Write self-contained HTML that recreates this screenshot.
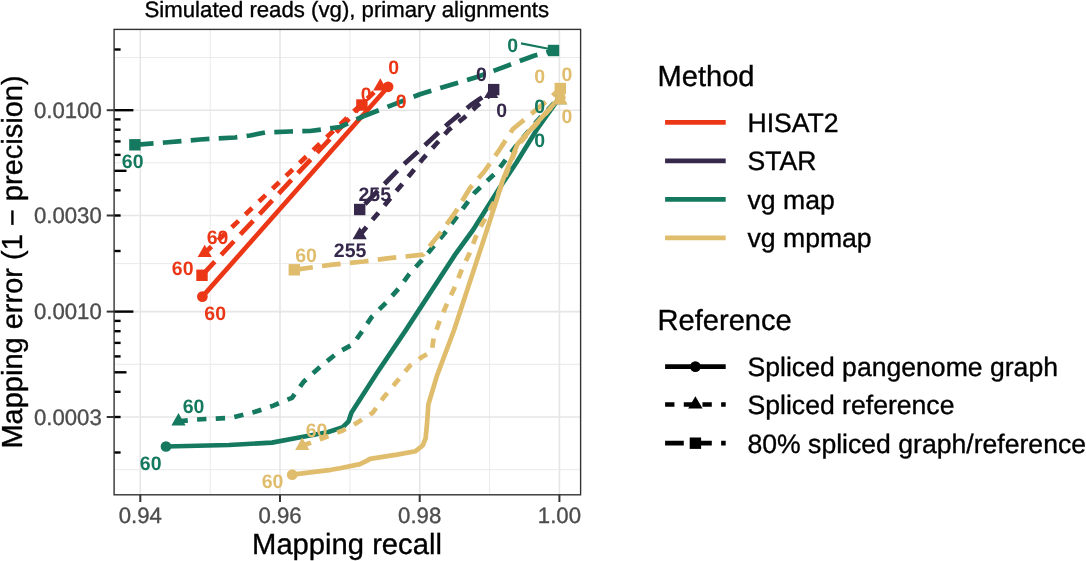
<!DOCTYPE html><html><head><meta charset="utf-8"><title>Simulated reads (vg), primary alignments</title>
<style>html,body{margin:0;padding:0;background:#fff}svg{display:block}text{font-family:"Liberation Sans",sans-serif;text-rendering:geometricPrecision}.lab{font-weight:bold;font-size:19.5px;text-anchor:middle}.tk{font-size:22.2px;fill:#4d4d4d}.lg{font-size:26.6px;fill:#000}.lt{font-size:29.1px;fill:#000}text{stroke-width:0.35px}.tk{stroke:#4d4d4d}.lg,.lt,.bk{stroke:#000}</style></head><body>
<svg width="1086" height="561" viewBox="0 0 1086 561">
<rect width="1086" height="561" fill="#fff"/>
<g stroke="#e5e5e5" stroke-width="0.8">
<line x1="210.2" y1="29.4" x2="210.2" y2="494.8"/>
<line x1="349.9" y1="29.4" x2="349.9" y2="494.8"/>
<line x1="489.6" y1="29.4" x2="489.6" y2="494.8"/>
<line x1="114.1" y1="57.5" x2="580.6" y2="57.5"/>
<line x1="114.1" y1="162.8" x2="580.6" y2="162.8"/>
<line x1="114.1" y1="263.6" x2="580.6" y2="263.6"/>
<line x1="114.1" y1="364.3" x2="580.6" y2="364.3"/>
<line x1="114.1" y1="469.7" x2="580.6" y2="469.7"/>
</g>
<g stroke="#e6e6e6" stroke-width="1.6">
<line x1="140.3" y1="29.4" x2="140.3" y2="494.8"/>
<line x1="280.0" y1="29.4" x2="280.0" y2="494.8"/>
<line x1="419.7" y1="29.4" x2="419.7" y2="494.8"/>
<line x1="559.4" y1="29.4" x2="559.4" y2="494.8"/>
<line x1="114.1" y1="110.2" x2="580.6" y2="110.2"/>
<line x1="114.1" y1="215.5" x2="580.6" y2="215.5"/>
<line x1="114.1" y1="311.6" x2="580.6" y2="311.6"/>
<line x1="114.1" y1="417.0" x2="580.6" y2="417.0"/>
</g>
<path d="M202.4,296.6 L388.1,86.8" fill="none" stroke="#EC3716" stroke-width="4.7" stroke-linejoin="round"/>
<path d="M204.7,253.0 L380.3,86.4" fill="none" stroke="#EC3716" stroke-width="4.7" stroke-linejoin="round" stroke-dasharray="9.34 9.34" stroke-dashoffset="0"/>
<path d="M202.0,275.3 L361.9,105.0" fill="none" stroke="#EC3716" stroke-width="4.7" stroke-linejoin="round" stroke-dasharray="18.68 9.34" stroke-dashoffset="0"/>
<path d="M359.7,235.2 L411.2,173.3 L423.0,158.6 L435.7,144.5 L448.4,130.2 L463.7,118.0 L475.5,107.3 L491.2,94.0" fill="none" stroke="#35284B" stroke-width="4.7" stroke-linejoin="round" stroke-dasharray="9.34 9.34" stroke-dashoffset="-1.3"/>
<path d="M359.7,209.5 L401.0,167.0 L428.4,142.0 L449.0,123.0 L470.6,105.3 L479.0,99.5 L493.7,89.6" fill="none" stroke="#35284B" stroke-width="4.7" stroke-linejoin="round" stroke-dasharray="18.68 9.34" stroke-dashoffset="20.5"/>
<path d="M166.0,446.5 L229.0,445.0 L272.0,442.6 L300.5,437.3 L327.6,432.2 L342.8,427.2 L348.6,421.3 L351.4,412.7 L377.1,372.8 L405.5,330.6 L454.9,254.9 L473.0,230.0 L499.8,187.5 L516.3,162.7 L537.2,129.0 L559.9,97.0" fill="none" stroke="#14795F" stroke-width="4.7" stroke-linejoin="round"/>
<path d="M178.5,421.3 L194.5,419.6 L231.0,417.8 L255.2,411.8 L273.3,405.6 L292.0,397.8 L303.9,381.4 L320.8,366.2 L337.7,352.6 L353.0,344.2 L361.4,332.3 L371.6,317.1 L386.8,301.9 L400.0,287.0 L409.3,274.0 L422.0,260.1 L446.3,231.2 L474.6,192.8 L496.6,172.0 L516.0,146.0 L538.0,120.0 L559.9,97.0" fill="none" stroke="#14795F" stroke-width="4.7" stroke-linejoin="round" stroke-dasharray="9.34 9.34" stroke-dashoffset="0"/>
<path d="M134.9,144.8 L165.0,142.5 L200.0,139.5 L235.0,137.5 L250.0,135.5 L265.0,132.5 L290.0,131.5 L310.0,131.0 L340.0,127.0 L364.0,116.0" fill="none" stroke="#14795F" stroke-width="4.7" stroke-linejoin="round" stroke-dasharray="18.68 9.34" stroke-dashoffset="0"/>
<path d="M364.0,116.0 L420.0,94.2 L477.0,77.0 L534.0,55.7 L553.5,50.5" fill="none" stroke="#14795F" stroke-width="4.7" stroke-linejoin="round" stroke-dasharray="18.68 9.34" stroke-dashoffset="2.8354732716962303"/>
<path d="M292.2,474.7 L331.0,469.8 L340.0,468.3 L360.0,464.1 L367.1,460.6 L370.0,458.9 L397.0,454.6 L415.6,451.2 L422.7,445.5 L425.6,438.4 L427.0,424.1 L428.4,404.2 L437.0,375.6 L454.1,330.0 L486.9,230.0 L496.6,200.0 L502.4,181.2 L517.5,144.1 L539.5,119.8 L560.3,97.0" fill="none" stroke="#E0BD6D" stroke-width="4.7" stroke-linejoin="round"/>
<path d="M302.2,445.8 L320.8,439.0 L342.8,430.5 L357.1,422.7 L372.8,412.7 L382.8,398.5 L397.0,381.3 L409.9,365.7 L422.0,357.0 L431.8,351.5 L433.6,338.0 L439.4,321.5 L446.3,305.3 L454.4,287.9 L461.4,270.5 L469.5,253.2 L477.6,232.3 L496.0,198.7 L503.0,182.0 L517.5,146.0 L539.5,120.5 L560.3,97.0" fill="none" stroke="#E0BD6D" stroke-width="4.7" stroke-linejoin="round" stroke-dasharray="9.34 9.34" stroke-dashoffset="0"/>
<path d="M294.3,269.8 L332.6,264.6 L363.9,261.5 L387.4,258.4 L423.2,254.6 L432.4,242.7 L441.7,231.2 L456.1,211.2 L470.0,188.0 L483.9,172.0 L497.8,152.2 L512.9,129.0 L525.6,118.6 L546.4,101.3 L560.3,88.5" fill="none" stroke="#E0BD6D" stroke-width="4.7" stroke-linejoin="round" stroke-dasharray="18.68 9.34" stroke-dashoffset="0"/>
<circle cx="202.4" cy="296.6" r="5.35" fill="#EC3716"/>
<circle cx="388.1" cy="86.8" r="5.35" fill="#EC3716"/>
<polygon points="204.7,244.8 197.6,257.1 211.8,257.1" fill="#EC3716"/>
<polygon points="380.3,78.2 373.2,90.5 387.4,90.5" fill="#EC3716"/>
<rect x="196.3" y="269.6" width="11.4" height="11.4" fill="#EC3716"/>
<rect x="356.2" y="99.3" width="11.4" height="11.4" fill="#EC3716"/>
<polygon points="359.7,227.0 352.6,239.3 366.8,239.3" fill="#35284B"/>
<polygon points="491.2,85.8 484.1,98.1 498.3,98.1" fill="#35284B"/>
<rect x="354.0" y="203.8" width="11.4" height="11.4" fill="#35284B"/>
<rect x="488.0" y="83.9" width="11.4" height="11.4" fill="#35284B"/>
<circle cx="166.0" cy="446.5" r="5.35" fill="#14795F"/>
<circle cx="560.0" cy="97.5" r="4.8" fill="#14795F"/>
<polygon points="178.5,413.1 171.4,425.4 185.6,425.4" fill="#14795F"/>
<polygon points="560.4,93.1 554.0,104.2 566.8,104.2" fill="#14795F"/>
<rect x="129.2" y="139.1" width="11.4" height="11.4" fill="#14795F"/>
<rect x="547.8" y="44.8" width="11.4" height="11.4" fill="#14795F"/>
<circle cx="292.2" cy="474.7" r="5.35" fill="#E0BD6D"/>
<circle cx="560.3" cy="97.5" r="5.35" fill="#E0BD6D"/>
<polygon points="302.2,437.6 295.1,449.9 309.3,449.9" fill="#E0BD6D"/>
<polygon points="560.5,92.3 553.4,104.6 567.6,104.6" fill="#E0BD6D"/>
<rect x="288.6" y="264.1" width="11.4" height="11.4" fill="#E0BD6D"/>
<rect x="554.6" y="82.8" width="11.4" height="11.4" fill="#E0BD6D"/>
<line x1="521" y1="43.4" x2="549.8" y2="49" stroke="#14795F" stroke-width="2.2"/>
<text class="lab" x="217.5" y="244.0" fill="#EC3716">60</text>
<text class="lab" x="182.7" y="274.9" fill="#EC3716">60</text>
<text class="lab" x="215.2" y="319.8" fill="#EC3716">60</text>
<text class="lab" x="393.7" y="73.9" fill="#EC3716">0</text>
<text class="lab" x="366.2" y="100.7" fill="#EC3716">0</text>
<text class="lab" x="401.2" y="108.2" fill="#EC3716">0</text>
<text class="lab" x="374.8" y="201.4" fill="#35284B">255</text>
<text class="lab" x="350.1" y="257.2" fill="#35284B">255</text>
<text class="lab" x="481.5" y="81.0" fill="#35284B">0</text>
<text class="lab" x="501.7" y="116.9" fill="#35284B">0</text>
<text class="lab" x="132.7" y="167.9" fill="#14795F">60</text>
<text class="lab" x="193.5" y="413.2" fill="#14795F">60</text>
<text class="lab" x="150.7" y="470.3" fill="#14795F">60</text>
<text class="lab" x="512.7" y="52.1" fill="#14795F">0</text>
<text class="lab" x="539.8" y="112.6" fill="#14795F">0</text>
<text class="lab" x="539.8" y="146.8" fill="#14795F">0</text>
<text class="lab" x="306.0" y="261.8" fill="#E0BD6D">60</text>
<text class="lab" x="316.5" y="437.1" fill="#E0BD6D">60</text>
<text class="lab" x="272.6" y="487.7" fill="#E0BD6D">60</text>
<text class="lab" x="539.8" y="82.7" fill="#E0BD6D">0</text>
<text class="lab" x="566.9" y="80.7" fill="#E0BD6D">0</text>
<text class="lab" x="566.9" y="122.6" fill="#E0BD6D">0</text>
<g stroke="#000" stroke-width="2.4">
<line x1="114.1" y1="110.2" x2="133.4" y2="110.2"/>
<line x1="114.1" y1="49.5" x2="120.6" y2="49.5"/>
<line x1="114.1" y1="311.6" x2="133.4" y2="311.6"/>
<line x1="114.1" y1="251.0" x2="120.6" y2="251.0"/>
<line x1="114.1" y1="215.5" x2="120.6" y2="215.5"/>
<line x1="114.1" y1="190.3" x2="120.6" y2="190.3"/>
<line x1="114.1" y1="170.8" x2="126.5" y2="170.8"/>
<line x1="114.1" y1="154.9" x2="120.6" y2="154.9"/>
<line x1="114.1" y1="141.4" x2="120.6" y2="141.4"/>
<line x1="114.1" y1="129.7" x2="120.6" y2="129.7"/>
<line x1="114.1" y1="119.4" x2="120.6" y2="119.4"/>
<line x1="114.1" y1="452.5" x2="120.6" y2="452.5"/>
<line x1="114.1" y1="417.0" x2="120.6" y2="417.0"/>
<line x1="114.1" y1="391.8" x2="120.6" y2="391.8"/>
<line x1="114.1" y1="372.3" x2="126.5" y2="372.3"/>
<line x1="114.1" y1="356.4" x2="120.6" y2="356.4"/>
<line x1="114.1" y1="342.9" x2="120.6" y2="342.9"/>
<line x1="114.1" y1="331.2" x2="120.6" y2="331.2"/>
<line x1="114.1" y1="320.9" x2="120.6" y2="320.9"/>
</g>
<rect x="114.1" y="29.4" width="466.5" height="465.4" fill="none" stroke="#333" stroke-width="1.4"/>
<g stroke="#333" stroke-width="2">
<line x1="106.7" y1="110.2" x2="114.1" y2="110.2"/>
<line x1="106.7" y1="215.5" x2="114.1" y2="215.5"/>
<line x1="106.7" y1="311.6" x2="114.1" y2="311.6"/>
<line x1="106.7" y1="417.0" x2="114.1" y2="417.0"/>
<line x1="140.3" y1="494.8" x2="140.3" y2="502.0"/>
<line x1="280.0" y1="494.8" x2="280.0" y2="502.0"/>
<line x1="419.7" y1="494.8" x2="419.7" y2="502.0"/>
<line x1="559.4" y1="494.8" x2="559.4" y2="502.0"/>
</g>
<text class="tk" text-anchor="end" x="101.8" y="117.8">0.0100</text>
<text class="tk" text-anchor="end" x="101.8" y="223.1">0.0030</text>
<text class="tk" text-anchor="end" x="101.8" y="319.2">0.0010</text>
<text class="tk" text-anchor="end" x="101.8" y="424.6">0.0003</text>
<text class="tk" text-anchor="middle" x="140.3" y="523.1">0.94</text>
<text class="tk" text-anchor="middle" x="280.0" y="523.1">0.96</text>
<text class="tk" text-anchor="middle" x="419.7" y="523.1">0.98</text>
<text class="tk" text-anchor="middle" x="559.4" y="523.1">1.00</text>
<text x="346.8" y="17" text-anchor="middle" font-size="22.2" fill="#000" class="bk">Simulated reads (vg), primary alignments</text>
<text x="347" y="553.6" text-anchor="middle" font-size="29.2" fill="#000" class="bk">Mapping recall</text>
<text transform="translate(22.0,262) rotate(-90)" text-anchor="middle" font-size="29.0" fill="#000" class="bk">Mapping error (1 − precision)</text>
<text class="lt" x="657.5" y="85.9">Method</text>
<line x1="665.1" y1="122.3" x2="725.7" y2="122.3" stroke="#EC3716" stroke-width="4.7"/>
<text class="lg" x="747.5" y="131.6">HISAT2</text>
<line x1="665.1" y1="160.8" x2="725.7" y2="160.8" stroke="#35284B" stroke-width="4.7"/>
<text class="lg" x="747.5" y="170.2">STAR</text>
<line x1="665.1" y1="199.4" x2="725.7" y2="199.4" stroke="#14795F" stroke-width="4.7"/>
<text class="lg" x="747.5" y="208.7">vg map</text>
<line x1="665.1" y1="237.9" x2="725.7" y2="237.9" stroke="#E0BD6D" stroke-width="4.7"/>
<text class="lg" x="747.5" y="247.2">vg mpmap</text>
<text class="lt" x="657.5" y="329.6">Reference</text>
<line x1="665.1" y1="366.6" x2="725.7" y2="366.6" stroke="#000" stroke-width="4.7"/>
<circle cx="695.4" cy="366.6" r="5.35" fill="#000"/>
<text class="lg" x="747.5" y="375.9">Spliced pangenome graph</text>
<line x1="665.1" y1="404.5" x2="725.7" y2="404.5" stroke="#000" stroke-width="4.7" stroke-dasharray="9.34 9.34"/>
<polygon points="695.4,396.2 688.2,408.6 702.6,408.6" fill="#000"/>
<text class="lg" x="747.5" y="413.8">Spliced reference</text>
<line x1="665.1" y1="443.2" x2="725.7" y2="443.2" stroke="#000" stroke-width="4.7" stroke-dasharray="18.68 9.34"/>
<rect x="689.7" y="437.5" width="11.4" height="11.4" fill="#000"/>
<text class="lg" x="747.5" y="452.5">80% spliced graph/reference</text>
</svg></body></html>
